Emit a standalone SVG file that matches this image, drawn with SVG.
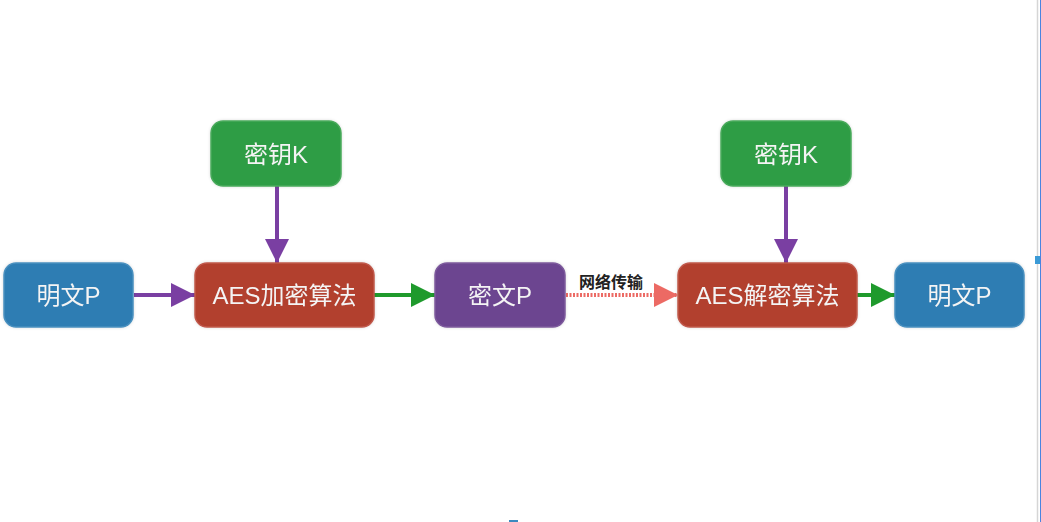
<svg xmlns="http://www.w3.org/2000/svg" width="1041" height="522" viewBox="0 0 1041 522">
<style>
.box{stroke-width:1.5;}
.blue{fill:#2f7db3;stroke:#4a90bf;}
.red{fill:#b23f2f;stroke:#c0594b;}
.green{fill:#2f9d45;stroke:#4aaa5c;}
.purple{fill:#6c4490;stroke:#7d5a9c;}
.lbl{font-family:"Liberation Sans","Noto Sans CJK SC",sans-serif;font-size:24px;fill:#f4f4f4;text-anchor:middle;dominant-baseline:central;}
.edge{fill:none;stroke-width:4;}
.edge-purple{stroke:#7a3fa2;}
.edge-green{stroke:#1f9a2c;}
.edge-red{stroke:#ec6a64;stroke-dasharray:2 1.5;}
.elbl{font-family:"Liberation Sans","Noto Sans CJK SC",sans-serif;font-size:16px;font-weight:bold;fill:#222;text-anchor:middle;}
</style>
<defs>
<filter id="glow" x="-10%" y="-20%" width="120%" height="140%">
<feGaussianBlur in="SourceAlpha" stdDeviation="1.5"/>
<feOffset dx="0" dy="0" result="b"/>
<feFlood flood-color="#000" flood-opacity="0.15"/>
<feComposite in2="b" operator="in"/>
<feMerge><feMergeNode/><feMergeNode in="SourceGraphic"/></feMerge>
</filter>
<marker id="ah-purple" markerWidth="6" markerHeight="6" refX="6" refY="3" orient="auto" markerUnits="strokeWidth" viewBox="0 0 6 6"><path d="M0,0 L6,3 L0,6 Z" fill="#7a3fa2"/></marker>
<marker id="ah-green" markerWidth="6" markerHeight="6" refX="6" refY="3" orient="auto" markerUnits="strokeWidth" viewBox="0 0 6 6"><path d="M0,0 L6,3 L0,6 Z" fill="#1f9a2c"/></marker>
<marker id="ah-red" markerWidth="6" markerHeight="6" refX="6" refY="3" orient="auto" markerUnits="strokeWidth" viewBox="0 0 6 6"><path d="M0,0 L6,3 L0,6 Z" fill="#ec6a64"/></marker>
</defs>
<rect x="0" y="0" width="1041" height="522" fill="#ffffff"/>
<line x1="1037.5" y1="0" x2="1037.5" y2="522" stroke="#d6d6d6" stroke-width="1.5"/>
<line x1="1040.5" y1="0" x2="1040.5" y2="522" stroke="#4a84e0" stroke-width="1"/>
<rect x="1035" y="256" width="5" height="8" fill="#3a9ad6"/>
<rect x="509" y="520" width="9" height="2" fill="#3a8ac0"/>

<g id="connectors">
<line class="edge edge-purple" x1="134" y1="295" x2="195" y2="295" marker-end="url(#ah-purple)"/>
<line class="edge edge-purple" x1="277" y1="186" x2="277" y2="263" marker-end="url(#ah-purple)"/>
<line class="edge edge-green" x1="374" y1="295" x2="435" y2="295" marker-end="url(#ah-green)"/>
<line class="edge edge-red" x1="566" y1="295" x2="678" y2="295" marker-end="url(#ah-red)"/>
<text class="elbl" x="611" y="288">网络传输</text>
<line class="edge edge-purple" x1="786" y1="186" x2="786" y2="263" marker-end="url(#ah-purple)"/>
<line class="edge edge-green" x1="848" y1="295" x2="895" y2="295" marker-end="url(#ah-green)"/>
</g>

<g id="plain1" filter="url(#glow)">
<rect class="box blue" x="4" y="263" width="129" height="64" rx="12"/>
<text class="lbl" x="68.5" y="295">明文P</text>
</g>
<g id="key1" filter="url(#glow)">
<rect class="box green" x="211" y="121" width="130" height="65" rx="12"/>
<text class="lbl" x="276" y="154">密钥K</text>
</g>
<g id="enc" filter="url(#glow)">
<rect class="box red" x="195" y="263" width="179" height="64" rx="12"/>
<text class="lbl" x="284.5" y="295">AES加密算法</text>
</g>
<g id="cipher" filter="url(#glow)">
<rect class="box purple" x="435" y="263" width="130" height="64" rx="12"/>
<text class="lbl" x="500" y="295">密文P</text>
</g>
<g id="key2" filter="url(#glow)">
<rect class="box green" x="721" y="121" width="130" height="65" rx="12"/>
<text class="lbl" x="786" y="154">密钥K</text>
</g>
<g id="dec" filter="url(#glow)">
<rect class="box red" x="678" y="263" width="179" height="64" rx="12"/>
<text class="lbl" x="767.5" y="295">AES解密算法</text>
</g>
<g id="plain2" filter="url(#glow)">
<rect class="box blue" x="895" y="263" width="129" height="64" rx="12"/>
<text class="lbl" x="959.5" y="295">明文P</text>
</g>
</svg>
